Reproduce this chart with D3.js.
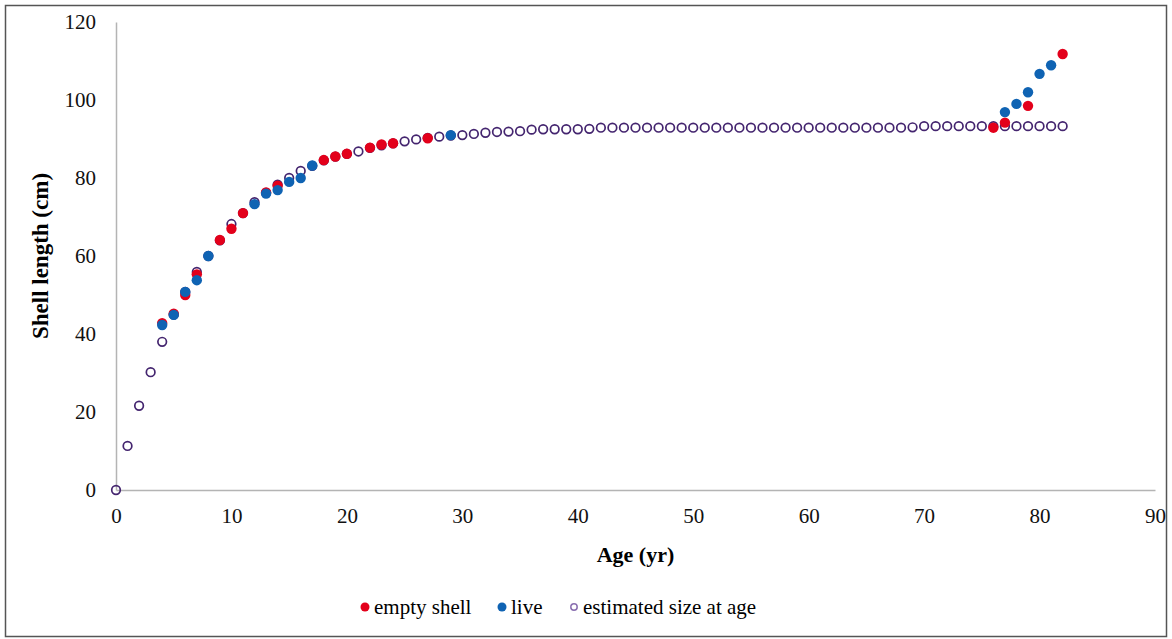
<!DOCTYPE html>
<html>
<head>
<meta charset="utf-8">
<script src="https://cdn.jsdelivr.net/npm/d3@7"></script>
<style>
  body { margin: 0; background: #fff; }
  text { font-family: "Liberation Serif", "Times New Roman", serif; }
</style>
</head>
<body>
<div id="chart"></div>
<script>
const width = 1172;
const height = 639;

// estimated size at age (age 0..82)
const estAges = d3.range(0, 83);
const estSize = [
    0, 11.3, 21.6, 30.2, 38.0, 45.0, 50.8, 55.9, 60.0, 64.0,
    68.2, 71.0, 73.8, 76.2, 78.3, 80.0, 81.8, 83.1, 84.5, 85.5,
    86.2, 86.8, 87.7, 88.4, 88.9, 89.4, 89.9, 90.3, 90.6, 90.9,
    91.0, 91.3, 91.6, 91.8, 91.9, 92.0, 92.4, 92.5, 92.5, 92.5,
    92.5, 92.6, 92.9, 92.9, 92.9, 92.9, 92.9, 92.9, 92.9, 92.9,
    92.9, 92.9, 92.9, 92.9, 92.9, 92.9, 92.9, 92.9, 92.9, 92.9,
    92.9, 92.9, 92.9, 92.9, 92.9, 92.9, 92.9, 92.9, 92.9, 93.0,
    93.3, 93.3, 93.3, 93.3, 93.3, 93.3, 93.3, 93.3, 93.3, 93.3,
    93.3, 93.3, 93.3
];

// empty shell
const shellAges = [4, 5, 6, 7, 9, 10, 11, 13, 14, 18, 19, 20, 22, 23, 24, 27, 76, 77, 79, 82];
const shellSize = [42.8, 45.2, 50.0, 55.3, 64.1, 67.0, 71.0, 76.3, 78.0, 84.6, 85.5, 86.2, 87.8, 88.6, 88.9, 90.2, 92.9, 94.2, 98.5, 111.8];

// live
const liveAges = [4, 5, 6, 7, 8, 12, 13, 14, 15, 16, 17, 29, 77, 78, 79, 80, 81];
const liveSize = [42.3, 44.9, 50.8, 53.8, 60.0, 73.3, 76.0, 76.9, 79.0, 80.0, 83.2, 91.0, 96.9, 99.0, 102.0, 106.7, 108.9];

const xTicks = [0, 10, 20, 30, 40, 50, 60, 70, 80, 90];
const yTicks = [0, 20, 40, 60, 80, 100, 120];

const red = '#e3001b';
const blue = '#0f63b3';
const purple = '#44256f';

const margin = { left: 116, right: 17, top: 22, bottom: 149 };

const x = d3.scaleLinear().domain([0, 90]).range([margin.left, width - margin.right]);
const y = d3.scaleLinear().domain([0, 120]).range([height - margin.bottom, margin.top]);

const svg = d3.select('#chart')
    .append('svg')
    .attr('width', width)
    .attr('height', height);

// frame
svg.append('rect')
    .attr('x', 5.5)
    .attr('y', 5.5)
    .attr('width', width - 11)
    .attr('height', height - 8)
    .style('fill', 'none')
    .style('stroke', '#555')
    .style('stroke-width', 1.5);

// axes
const xAxis = svg.append('g')
    .attr('transform', `translate(0,${y(0)})`)
    .call(d3.axisBottom(x).tickValues(xTicks).tickSize(0).tickPadding(18));
xAxis.select('.domain').style('stroke', '#b4b4b4').style('stroke-width', 1.5);
xAxis.selectAll('text').style('font-size', '21px').style('fill', '#111');

const yAxis = svg.append('g')
    .attr('transform', `translate(${x(0)},0)`)
    .call(d3.axisLeft(y).tickValues(yTicks).tickSize(0).tickPadding(20));
yAxis.select('.domain').style('stroke', '#b4b4b4').style('stroke-width', 1.5);
yAxis.selectAll('text').style('font-size', '21px').style('fill', '#111');

// axis titles
svg.append('text')
    .attr('x', (x(0) + x(90)) / 2)
    .attr('y', 562)
    .attr('text-anchor', 'middle')
    .style('font-size', '22px')
    .style('font-weight', 'bold')
    .text('Age (yr)');

svg.append('text')
    .attr('transform', `translate(48,${(y(0) + y(120)) / 2}) rotate(-90)`)
    .attr('text-anchor', 'middle')
    .style('font-size', '23px')
    .style('font-weight', 'bold')
    .text('Shell length (cm)');

// estimated size at age
svg.append('g')
    .selectAll('circle')
    .data(estAges)
    .enter()
    .append('circle')
    .attr('cx', d => x(d))
    .attr('cy', (d, i) => y(estSize[i]))
    .attr('r', 4.3)
    .style('fill', 'none')
    .style('stroke', purple)
    .style('stroke-width', 1.7);

// empty shell
svg.append('g')
    .selectAll('circle')
    .data(shellAges)
    .enter()
    .append('circle')
    .attr('cx', d => x(d))
    .attr('cy', (d, i) => y(shellSize[i]))
    .attr('r', 5.2)
    .style('fill', red);

// live
svg.append('g')
    .selectAll('circle')
    .data(liveAges)
    .enter()
    .append('circle')
    .attr('cx', d => x(d))
    .attr('cy', (d, i) => y(liveSize[i]))
    .attr('r', 5.2)
    .style('fill', blue);

// legend
const legendItems = [
    { label: 'empty shell', x: 365, type: 'fill', color: red },
    { label: 'live', x: 502, type: 'fill', color: blue },
    { label: 'estimated size at age', x: 574, type: 'open', color: purple }
];
const legend = svg.append('g').attr('transform', 'translate(0,608)');
legendItems.forEach(function (d) {
    if (d.type === 'fill') {
        legend.append('circle')
            .attr('cx', d.x)
            .attr('cy', -1)
            .attr('r', 4.5)
            .style('fill', d.color);
    } else {
        legend.append('circle')
            .attr('cx', d.x)
            .attr('cy', -1)
            .attr('r', 3.2)
            .style('fill', '#fff')
            .style('stroke', '#8a6fb0')
            .style('stroke-width', 1.5);
    }
    legend.append('text')
        .attr('x', d.x + 9)
        .attr('y', 6)
        .style('font-size', '21px')
        .text(d.label);
});
</script>
</body>
</html>
